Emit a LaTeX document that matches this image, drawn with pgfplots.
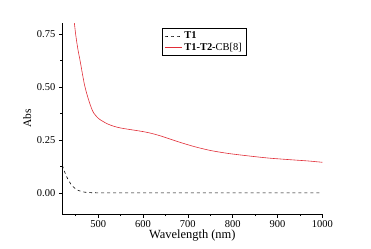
\documentclass[border=0pt]{standalone}
\usepackage{pgfplots}
\pgfplotsset{compat=1.18}
\usepackage{fontspec}
\setmainfont{Liberation Serif}
\definecolor{cred}{RGB}{225,45,55}
\begin{document}
\begin{tikzpicture}[x=1bp,y=1bp]
\useasboundingbox (-62.3bp,-35bp) rectangle (308.7bp,214bp);
\begin{axis}[
  at={(0,0)}, anchor=south west,
  scale only axis, width=260bp, height=190.7bp,
  xmin=420, xmax=1000, ymin=-0.1, ymax=0.8,
  axis x line*=bottom, axis y line*=left,
  axis line style={black, line width=0.6pt},
  xtick={500,600,700,800,900,1000},
  minor xtick={450,550,650,750,850,950},
  ytick={0,0.25,0.5,0.75},
  minor ytick={0.125,0.375,0.625},
  tick align=outside,
  major tick length=3.5bp, minor tick length=2bp,
  tick style={black, line width=0.5pt},
  xticklabel style={/pgf/number format/.cd, 1000 sep={}},
  yticklabel style={/pgf/number format/.cd, fixed, fixed zerofill, precision=2},
  /pgf/number format/assume math mode=true,
  ticklabel style={font=\rmfamily\fontsize{10.5}{11}\selectfont},
  xlabel={Wavelength (nm)}, ylabel={Abs},
  xlabel style={font=\rmfamily\fontsize{12.5}{13}\selectfont, yshift=5pt},
  ylabel style={font=\rmfamily\fontsize{11.5}{12}\selectfont, yshift=-1pt},
  legend style={at={(0.385,0.975)}, anchor=north west, draw=black, line width=0.5pt,
    font=\rmfamily\fontsize{10.5}{11}\selectfont, inner xsep=2pt, inner ysep=1.5pt, row sep=-1pt},
  legend cell align=left,
  legend image post style={line width=0.7pt},
  clip=true,
]
\addplot[black, dashed, line width=0.6pt, smooth, tension=0.5] coordinates {
(420,0.13)(425,0.10)(430,0.075)(435,0.055)(440,0.038)(450,0.018)(460,0.008)(470,0.003)(480,0.001)(500,0)(600,0)(700,0)(800,0)(900,0)(1000,0)};
\addlegendentry{\textbf{T1}}
\addplot[cred, line width=0.6pt, smooth, tension=0.5] coordinates {
(446,0.82)(450,0.745)(455,0.675)(460,0.62)(465,0.56)(470,0.505)(475,0.465)(480,0.43)(485,0.40)(490,0.377)(500,0.352)(510,0.338)(520,0.326)(535,0.314)(550,0.306)(570,0.299)(600,0.289)(620,0.280)(640,0.268)(660,0.254)(680,0.240)(700,0.227)(720,0.215)(750,0.200)(780,0.189)(800,0.183)(840,0.173)(880,0.164)(930,0.156)(970,0.150)(1000,0.144)};
\addlegendentry{\textbf{T1-T2-}CB[8]}
\end{axis}
\end{tikzpicture}
\end{document}
